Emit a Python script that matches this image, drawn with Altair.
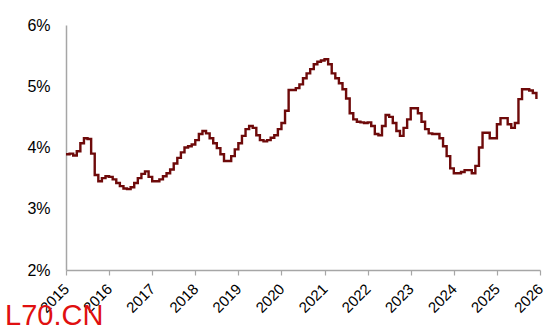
import altair as alt
import pandas as pd

# Monthly values (%), Jan 2015 .. Dec 2025
values = [
    3.89, 3.90, 3.87, 3.94, 4.07, 4.15, 4.14, 3.90, 3.55, 3.45, 3.50, 3.53,   # 2015
    3.52, 3.48, 3.42, 3.37, 3.33, 3.32, 3.35, 3.42, 3.50, 3.57, 3.61, 3.52,   # 2016
    3.45, 3.45, 3.48, 3.53, 3.58, 3.64, 3.74, 3.83, 3.92, 4.00, 4.02, 4.05,   # 2017
    4.12, 4.22, 4.27, 4.23, 4.15, 4.07, 3.99, 3.89, 3.78, 3.78, 3.86, 3.97,   # 2018
    4.07, 4.19, 4.30, 4.35, 4.32, 4.20, 4.12, 4.10, 4.12, 4.16, 4.20, 4.30,   # 2019
    4.40, 4.60, 4.94, 4.94, 4.97, 5.03, 5.13, 5.21, 5.28, 5.36, 5.40, 5.42,   # 2020
    5.44, 5.36, 5.21, 5.13, 5.05, 4.95, 4.80, 4.56, 4.46, 4.42, 4.41, 4.40,   # 2021
    4.41, 4.35, 4.22, 4.20, 4.35, 4.53, 4.50, 4.40, 4.27, 4.19, 4.32, 4.46,   # 2022
    4.64, 4.64, 4.56, 4.42, 4.30, 4.23, 4.22, 4.22, 4.15, 4.02, 3.86, 3.66,   # 2023
    3.58, 3.58, 3.60, 3.63, 3.63, 3.58, 3.70, 4.00, 4.24, 4.24, 4.15, 4.15,   # 2024
    4.38, 4.48, 4.48, 4.38, 4.32, 4.40, 4.79, 4.95, 4.95, 4.93, 4.89, 4.79,   # 2025
]
start_year = 2015
tick_years = list(range(2015, 2027))
y_ticks = [2, 3, 4, 5, 6]

t = [start_year + i / 12 for i in range(len(values))]
df = pd.DataFrame({"t": t, "v": values})

line = alt.Chart(df).mark_line(
    interpolate="step-after", color="#6E0A0A", strokeWidth=2.4
).encode(
    x=alt.X(
        "t:Q",
        scale=alt.Scale(domain=[2015, 2026], nice=False, zero=False),
        axis=alt.Axis(
            values=tick_years, format="d", title=None, grid=False,
            labelAngle=-45, labelAlign="right", labelBaseline="middle",
            labelFontSize=15, labelColor="#000000", labelFont="Liberation Sans",
            labelPadding=11, tickSize=5, tickColor="#A6A6A6",
            domainColor="#A6A6A6", domainWidth=1.5, tickWidth=1.2,
            labelOverlap=False,
        ),
    ),
    y=alt.Y(
        "v:Q",
        scale=alt.Scale(domain=[2, 6], nice=False, zero=False),
        axis=alt.Axis(
            values=y_ticks, labelExpr="datum.value + '%'", title=None,
            grid=False, ticks=False, labelFontSize=16, labelColor="#000000",
            labelFont="Liberation Sans", labelPadding=16,
            domainColor="#A6A6A6", domainWidth=1.5,
        ),
    ),
)

wm = alt.Chart(pd.DataFrame({"s": ["L70.CN"]})).mark_text(
    align="left", baseline="alphabetic", fontSize=29, color="#E01010",
    font="Liberation Sans",
).encode(
    text="s:N", x=alt.value(-61), y=alt.value(300)
)

chart = alt.layer(line, wm).properties(
    width=474, height=245,
    autosize=alt.AutoSizeParams(type="none"),
    padding={"left": 66, "top": 25, "right": 10, "bottom": 62},
).configure_view(stroke=None)

chart.save("out.html", embed_options={"renderer": "svg", "actions": False})
